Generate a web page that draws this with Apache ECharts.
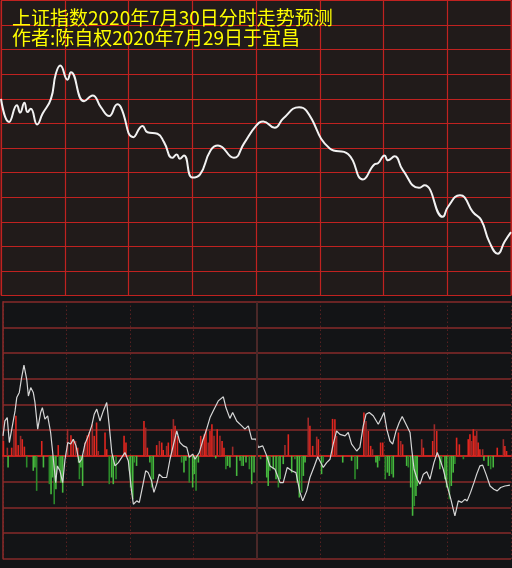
<!DOCTYPE html>
<html>
<head>
<meta charset="utf-8">
<script src="https://cdn.jsdelivr.net/npm/echarts@6/dist/echarts.min.js"></script>
<style>
html,body{margin:0;padding:0;background:#131416;}
#chart{width:512px;height:568px;}
</style>
</head>
<body>
<div id="chart"></div>
<script>
// ---- titles ----
const titleLine1 = '上证指数2020年7月30日分时走势预测';
const titleLine2 = '作者:陈自权2020年7月29日于宜昌';

// ---- top panel: forecast price line (minute of session, index value) ----
const priceMinutes = [0, 3.8, 7.5, 9, 11, 12.5, 14, 17, 19.6, 23.5, 25.8, 27.9, 31.3, 32.9, 39.1, 43.1, 47, 50.9, 54.8, 56.4,
  62.3, 66.6, 68.9, 73.6, 76.7, 80.6, 82.7, 84.1, 86.1, 90, 93.6, 98.6, 102.1, 109.6, 114.3, 120.2, 123.4, 128.8, 132.8, 140.3,
  143.7, 154.7, 163.3, 170.3, 175.8, 177.4, 180.5, 182.1, 185.2, 189.1, 196.7, 199.3, 207.9, 210.3, 216, 218.1, 222, 225.9, 229.8, 233.8,
  236.9, 240];
const priceValues = [3290.0, 3285.3, 3288.7, 3287.2, 3289.2, 3287.3, 3288.0, 3284.8, 3287.0, 3290.0, 3295.1, 3296.8, 3293.9, 3295.4, 3289.5, 3290.7, 3288.3, 3286.5, 3288.9, 3288.3,
  3282.2, 3284.5, 3283.2, 3282.9, 3281.2, 3278.0, 3278.7, 3277.8, 3278.5, 3274.0, 3274.6, 3279.5, 3280.5, 3278.0, 3280.9, 3284.6, 3285.4, 3284.1, 3286.0, 3288.3,
  3287.6, 3279.9, 3278.8, 3273.6, 3276.7, 3276.9, 3278.5, 3277.5, 3278.3, 3275.5, 3271.9, 3272.4, 3266.0, 3268.0, 3270.4, 3270.0, 3267.0, 3265.4, 3260.9, 3258.5,
  3260.9, 3262.9];
const priceMin = 3250, priceMax = 3310, priceStep = 5;

// ---- bottom panel: indicator line ----
const flowMinutes = [0, 0.9, 2.0, 3.0, 5.7, 6.5, 7.7, 8.8, 9.9, 11.2, 12.0, 13.1, 14.3, 15.1, 16.4, 17.8, 18.6, 19.8, 21.1, 22.5,
  23.8, 24.9, 25.7, 26.9, 28.2, 29.3, 30.6, 32.0, 33.2, 34.5, 36.0, 37.2, 38.7, 40.3, 41.9, 43.1, 44.3, 45.8, 47.4, 49.0,
  50.2, 51.4, 52.9, 54.5, 56.1, 57.6, 59.2, 60.8, 61.6, 63.2, 64.4, 66.0, 67.4, 68.6, 70.2, 71.3, 72.6, 73.8, 75.4, 77.3,
  78.9, 80.4, 82.1, 83.6, 85.2, 86.8, 88.0, 89.6, 90.7, 92.7, 94.6, 96.2, 97.8, 99.3, 101.7, 104.1, 105.3, 107.2, 108.5, 110.4,
  112.8, 114.3, 115.9, 117.5, 119.5, 120.6, 122.7, 124.6, 126.1, 128.5, 130.9, 132.4, 134.3, 136.4, 138.4, 140.3, 141.6, 143.5, 145.0, 147.1,
  148.7, 150.1, 151.3, 152.9, 154.5, 156.0, 157.6, 159.2, 161.6, 163.1, 164.7, 167.1, 168.6, 170.2, 171.5, 173.0, 174.9, 177.3, 178.9, 180.0,
  181.3, 182.8, 184.1, 185.7, 187.2, 188.6, 190.4, 192.3, 193.1, 194.2, 195.7, 197.0, 198.6, 200.2, 201.7, 203.6, 205.2, 206.4, 208.0, 209.9,
  211.6, 212.7, 213.5, 215.1, 216.7, 218.2, 219.3, 220.9, 222.5, 223.8, 225.3, 226.6, 228.2, 230.1, 231.9, 233.5, 235.1, 237.1, 239.5];
const flowValues = [0.78, 1.36, 1.49, 0.52, 1.75, 2.27, 2.47, 3.05, 3.53, 2.98, 2.33, 2.66, 2.47, 2.08, 1.04, 1.69, 1.88, 1.43, 1.56, 0.91,
  -0.13, -1.04, -0.39, -0.58, -1.04, -0.13, 0.52, 0.46, 0.65, 0.39, -0.26, -0.13, 0.46, 0.78, 1.17, 1.62, 1.82, 1.36, 1.75, 2.08,
  1.17, 0.13, -0.39, -0.26, -0.06, 0.13, -0.19, -1.42, -1.88, -1.75, -1.81, -1.17, -0.58, -0.65, -0.97, -1.42, -1.10, -0.71, -0.84, -0.84,
  -0.13, 0.39, 0.97, 0.52, 0.39, 0.33, -0.06, 0.07, -0.13, 0.13, 0.65, 1.04, 1.49, 1.75, 2.14, 2.30, 1.88, 1.46, 1.69, 1.36,
  1.17, 1.04, 1.17, 0.65, 0.65, 0.33, 0.39, 0.0, -0.39, -0.52, -1.04, -1.04, -0.45, -0.58, -0.65, -1.42, -1.75, -1.36, -0.84, -0.39,
  -0.03, -0.26, -0.45, -0.26, -0.13, 0.46, 0.97, 0.84, 0.78, 0.91, 0.46, 0.19, 0.33, 1.17, 1.62, 1.69, 1.56, 1.23, 1.49, 1.69,
  1.04, 0.58, 0.46, 0.97, 1.30, 1.53, 1.23, 0.91, 0.26, -0.52, -0.91, -1.10, -0.71, -0.62, -0.91, -0.26, 0.13, -0.13, -0.52, -1.17,
  -1.69, -2.07, -2.33, -1.75, -1.81, -1.69, -1.75, -1.42, -1.04, -0.71, -0.39, -0.36, -0.71, -1.17, -1.30, -1.36, -1.23, -1.17, -1.14];

// ---- bottom panel: red / green bars ----
const barMinutes = [0.2, 2.05, 2.4, 4.1, 5.2, 6.1, 7.2, 8.3, 9.1, 10.1, 11.2, 14.3, 15.1, 15.9, 18.3, 19.1, 21.9, 22.7, 23.5, 24.2,
  25.0, 26.1, 26.6, 27.4, 28.2, 30.5, 32.1, 33.2, 34.3, 35.3, 35.7, 36.1, 36.8, 37.6, 38.7, 39.8, 40.8, 42.2, 43.1, 44.2,
  45.0, 48.2, 49.0, 50.2, 51.3, 52.1, 53.4, 57.2, 58.1, 59.7, 60.3, 61.3, 62.0, 63.1, 66.6, 67.4, 68.2, 69.4, 70.2, 71.0,
  72.6, 73.9, 75.0, 75.7, 77.3, 78.1, 79.7, 80.5, 81.3, 82.4, 84.4, 85.5, 86.4, 88.0, 89.6, 90.4, 91.2, 92.3, 93.4, 94.2,
  95.1, 95.9, 97.0, 97.8, 98.7, 99.7, 100.5, 101.2, 102.5, 103.5, 104.4, 105.3, 106.1, 107.2, 108.5, 110.4, 112.0, 112.7, 113.5, 114.8,
  116.4, 117.5, 118.6, 121.7, 124.6, 125.3, 126.1, 127.7, 129.0, 130.1, 130.9, 132.4, 133.2, 134.8, 136.4, 137.9, 139.0, 140.0, 141.1, 141.9,
  142.7, 144.2, 145.0, 146.3, 148.2, 149.0, 150.5, 151.3, 155.7, 156.8, 157.6, 160.5, 164.7, 166.3, 167.4, 170.5, 171.5, 172.6, 173.7, 174.6,
  176.2, 177.0, 177.8, 178.4, 179.4, 180.6, 181.6, 182.5, 183.6, 184.4, 186.8, 187.9, 188.8, 190.7, 191.5, 192.6, 193.5, 194.3, 195.1, 195.7,
  197.8, 198.6, 203.0, 203.8, 204.9, 206.4, 207.2, 208.8, 209.6, 210.9, 211.8, 212.7, 213.5, 214.3, 215.6, 217.5, 219.8, 220.6, 221.4, 222.2,
  223.0, 223.8, 224.5, 225.3, 226.6, 227.2, 229.3, 230.4, 231.6, 233.5, 236.4, 237.1, 237.9];
const barValues = [0.58, 0.32, -0.45, 0.32, 1.04, 1.56, 0.42, 0.78, 0.65, 0.36, -0.45, -0.58, -0.45, -1.36, 0.58, -0.45, -1.10, -1.49, -0.84, -1.88,
  -1.30, 0.42, -0.52, -1.04, -1.43, 1.04, 0.80, 0.65, 0.58, 0.32, -0.26, -0.91, -0.45, -1.17, 0.52, 0.80, 0.93, 1.23, 0.78, 1.30,
  0.19, 0.91, 0.26, -1.10, -0.84, -1.10, -0.91, 0.78, 0.52, -0.58, -1.23, -1.69, -0.26, -0.39, 1.36, 1.10, 0.32, -0.26, -1.23, -0.91,
  0.42, 0.58, 0.52, 0.23, 0.39, 0.52, 1.04, 1.43, 1.17, 0.78, -0.26, -0.65, -0.19, -1.04, -1.23, -0.71, -1.36, -0.26, 0.78, 0.65,
  0.84, 1.04, 0.52, 0.97, 1.23, 0.78, -0.10, 1.04, 0.78, 0.58, 0.32, -0.52, -0.39, -0.45, 0.36, -0.78, -0.19, -0.39, -0.39, -0.26,
  -0.52, -1.10, -0.65, -0.13, -0.84, -1.17, -0.58, -0.52, -0.91, -1.23, -0.91, -0.32, 0.42, 0.84, -0.65, -0.13, -1.04, -1.62, -1.43, -0.78,
  -0.26, 1.49, 1.17, 0.39, 0.75, 0.65, -0.71, -0.26, 1.44, 1.43, 0.78, -0.26, -0.19, -0.91, -0.52, 1.69, 1.36, 0.97, 0.39, 0.26,
  -0.26, -0.45, -0.19, 0.52, 0.52, -0.91, -0.65, -0.78, -0.71, -0.84, 0.91, 0.58, 0.45, -0.39, -0.45, -1.23, -2.33, -1.95, -1.56, -1.17,
  0.65, 0.32, 0.58, 1.23, 0.97, -0.52, -0.32, -0.91, -1.23, -1.69, -1.17, -0.65, -0.32, 0.71, 0.45, -0.13, 0.65, 0.84, 0.58, 1.04,
  0.78, 0.97, 0.52, 0.26, 0.26, -0.19, -0.39, -0.52, -0.45, 0.32, 0.65, 0.39, 0.19];
const flowMin = -4, flowMax = 6, flowStep = 1;
const sessionStart = 0, sessionEnd = 240, sessionStep = 30, lunchBreak = 120;

// ---- build chart ----
const zip = (a, b) => a.map((x, i) => [x, b[i]]);
const chart = echarts.init(document.getElementById('chart'), null, { renderer: 'canvas' });
const titleStyle = { color: '#ffff00', fontSize: 19, fontWeight: 'normal', fontFamily: '"Noto Sans CJK SC", sans-serif', lineHeight: 19 };

chart.setOption({
  animation: false,
  backgroundColor: '#131416',
  title: [
    { text: titleLine1, left: 12, top: 8, padding: 0, textStyle: titleStyle },
    { text: titleLine2, left: 12, top: 28, padding: 0, textStyle: titleStyle }
  ],
  grid: [
    { left: 1, right: 1, top: 0.5, height: 295, show: true, backgroundColor: '#211b1a', borderColor: '#b32220', borderWidth: 1 },
    { left: 3, right: 1, top: 301.7, height: 257, show: false }
  ],
  xAxis: [
    { gridIndex: 0, type: 'value', min: sessionStart, max: sessionEnd, interval: sessionStep,
      axisLine: { show: false }, axisTick: { show: false }, axisLabel: { show: false },
      splitLine: { show: true, lineStyle: { color: '#c02220', width: 1.2 } } },
    { gridIndex: 1, type: 'value', min: sessionStart, max: sessionEnd, interval: sessionStep,
      axisLine: { show: true, onZero: true, lineStyle: { color: '#c4221f', width: 2 } },
      axisTick: { show: false }, axisLabel: { show: false },
      splitLine: { show: true, lineStyle: { color: '#7a2828', width: 1, type: [1, 3] } } }
  ],
  yAxis: [
    { gridIndex: 0, type: 'value', min: priceMin, max: priceMax, interval: priceStep,
      axisLine: { show: false }, axisTick: { show: false }, axisLabel: { show: false },
      splitLine: { show: true, lineStyle: { color: '#c02220', width: 1.2 } } },
    { gridIndex: 1, type: 'value', min: flowMin, max: flowMax, interval: flowStep,
      axisLine: { show: true, lineStyle: { color: '#8c2a2a', width: 1.5 } },
      axisTick: { show: false }, axisLabel: { show: false },
      splitLine: { show: true, lineStyle: { color: '#872a2a', width: 1.5 } } }
  ],
  series: [
    { type: 'line', xAxisIndex: 0, yAxisIndex: 0, data: zip(priceMinutes, priceValues), smooth: 0.5,
      showSymbol: false, lineStyle: { color: '#f2f2f2', width: 2 } },
    { type: 'bar', xAxisIndex: 1, yAxisIndex: 1, data: zip(barMinutes, barValues), barWidth: 1.6,
      itemStyle: { color: p => {
        const up = p.value[1] >= 0, bright = p.dataIndex % 3 !== 1;
        return up ? (bright ? '#e0261f' : '#9e2a2a') : (bright ? '#46b83e' : '#2c8a2a');
      } },
      markLine: { silent: true, symbol: 'none', label: { show: false },
        lineStyle: { color: '#4a2828', width: 2, type: 'solid' },
        data: [{ xAxis: lunchBreak }] } },
    { type: 'line', xAxisIndex: 1, yAxisIndex: 1, data: zip(flowMinutes, flowValues),
      showSymbol: false, lineStyle: { color: '#d6d6d6', width: 1.2 } }
  ]
});
</script>
</body>
</html>
